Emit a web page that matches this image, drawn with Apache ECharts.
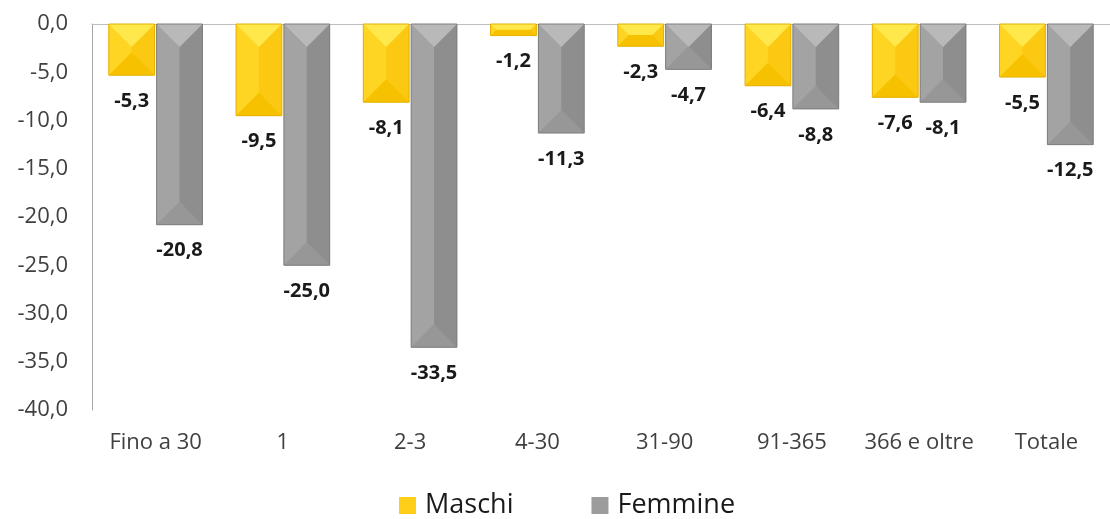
<!DOCTYPE html>
<html>
<head>
<meta charset="utf-8">
<script src="https://cdn.jsdelivr.net/npm/echarts@6/dist/echarts.min.js"></script>
<style>
  html, body { margin: 0; padding: 0; background: #fff; }
  #chart { width: 1110px; height: 519px; }
</style>
</head>
<body>
<div id="chart"></div>
<script>
// dati
const categories = ['Fino a 30', '1', '2-3', '4-30', '31-90', '91-365', '366 e oltre', 'Totale'];
const maschi = [-5.3, -9.5, -8.1, -1.2, -2.3, -6.4, -7.6, -5.5];
const femmine = [-20.8, -25.0, -33.5, -11.3, -4.7, -8.8, -8.1, -12.5];
const yTicks = { min: -40, max: 0, step: 5 };

const fmt = (v) => v.toFixed(1).replace('.', ',');

// colori delle facce smussate
const yellow = { base: '#FFCE18', top: '#FFE84C', left: '#FFD524', right: '#FBC812', bottom: '#F6C200', edge: '#E5B000' };
const grey = { base: '#9C9C9C', top: '#B9B9B9', left: '#A3A3A3', right: '#8E8E8E', bottom: '#979797', edge: '#7E7E7E' };

// barra con effetto bevel, side = -1 sinistra, 1 destra
function bevelBar(side, pal) {
  return function (params, api) {
    const val = api.value(1);
    const base = api.coord([api.value(0), 0]);
    const end = api.coord([api.value(0), val]);
    const band = api.size([1, 0])[0];
    const w = band * 0.36;
    const gap = band * 0.016;
    const x0 = side < 0 ? base[0] - gap / 2 - w : base[0] + gap / 2;
    const x1 = x0 + w;
    const t = Math.min(base[1], end[1]);
    const b = Math.max(base[1], end[1]);
    const d = Math.min(w / 2, (b - t) / 2);
    const poly = (pts, fill) => ({ type: 'polygon', shape: { points: pts }, style: { fill: fill } });
    return {
      type: 'group',
      children: [
        { type: 'rect', shape: { x: x0, y: t, width: w, height: b - t }, style: { fill: pal.base } },
        poly([[x0, t], [x0 + d, t + d], [x0 + d, b - d], [x0, b]], pal.left),
        poly([[x1, t], [x1, b], [x1 - d, b - d], [x1 - d, t + d]], pal.right),
        poly([[x0, b], [x0 + d, b - d], [x1 - d, b - d], [x1, b]], pal.bottom),
        poly([[x0, t], [x1, t], [x1 - d, t + d], [x0 + d, t + d]], pal.top),
        { type: 'rect', shape: { x: x0, y: t, width: w, height: b - t }, style: { fill: 'none', stroke: pal.edge, lineWidth: 1 } },
        {
          type: 'text',
          style: {
            text: fmt(val),
            x: (x0 + x1) / 2,
            y: b + 26,
            align: 'center',
            verticalAlign: 'middle',
            fontFamily: 'Open Sans',
            fontWeight: 'bold',
            fontSize: 20,
            fill: '#1a1a1a'
          }
        }
      ]
    };
  };
}

const chart = echarts.init(document.getElementById('chart'));
chart.setOption({
  animation: false,
  grid: { left: 92, top: 24, width: 1024, height: 386, containLabel: false },
  legend: {
    top: 487,
    left: 394,
    itemWidth: 17,
    itemHeight: 17,
    itemGap: 78,
    icon: 'rect',
    textStyle: { fontFamily: 'Open Sans', fontSize: 27, color: '#1a1a1a', padding: [0, 0, 0, 4] },
    data: ['Maschi', 'Femmine']
  },
  xAxis: [
    {
      type: 'category',
      data: categories,
      position: 'top',
      axisLine: { show: true, lineStyle: { color: '#BFBFBF', width: 1 } },
      axisTick: { show: false },
      axisLabel: { show: false }
    },
    {
      type: 'category',
      data: categories,
      position: 'bottom',
      axisLine: { show: false },
      axisTick: { show: false },
      axisLabel: { interval: 0, fontFamily: 'Open Sans', fontSize: 22, color: '#404040', margin: 22 }
    }
  ],
  yAxis: {
    type: 'value',
    min: yTicks.min,
    max: yTicks.max,
    interval: yTicks.step,
    axisLine: { show: true, lineStyle: { color: '#A6A6A6' } },
    axisTick: { show: false },
    splitLine: { show: false },
    axisLabel: { fontFamily: 'Open Sans', fontSize: 22, color: '#404040', margin: 24, formatter: fmt }
  },
  series: [
    {
      name: 'Maschi',
      type: 'custom',
      xAxisIndex: 0,
      itemStyle: { color: yellow.base },
      renderItem: bevelBar(-1, yellow),
      data: maschi.map((v, i) => [i, v])
    },
    {
      name: 'Femmine',
      type: 'custom',
      xAxisIndex: 0,
      itemStyle: { color: grey.base },
      renderItem: bevelBar(1, grey),
      data: femmine.map((v, i) => [i, v])
    }
  ]
});
</script>
</body>
</html>
